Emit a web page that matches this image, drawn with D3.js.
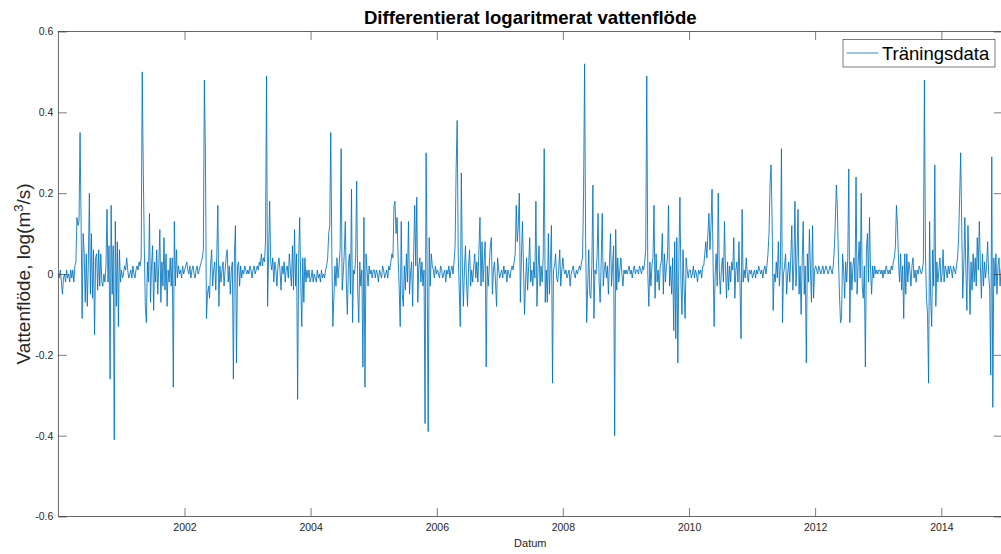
<!DOCTYPE html>
<html>
<head>
<meta charset="utf-8">
<script src="https://cdn.jsdelivr.net/npm/d3@7"></script>
<style>
  body { margin: 0; background: #fff; }
  svg { display: block; font-family: "Liberation Sans", Arial, Helvetica, sans-serif; }
  .tick text { fill: #262626; font-size: 10.5px; }
  .tick line { stroke: #262626; stroke-width: 0.6; }
</style>
</head>
<body>
<svg id="chart" width="1001" height="554"></svg>
<script>
//series: one value every 6 days from 2000-01-01
let startDate = new Date(2000, 0, 1);
let endDate = new Date(2014, 11, 20);
let stepDays = 6;

let y2000 = [0,-0.01,0.01,-0.02,-0.05,-0.01,0,-0.02,0.01,-0.01,0,-0.02,0.01,-0.01,0.01,-0.02,0.02,0.03,
  0.14,0.12,0.13,0.35,0.13,-0.11,0.1,0.05,-0.07,0.05,-0.08,0.03,0.2,-0.05,0.1,-0.06,0.06,-0.15,0.04,0.05,-0.04,0.06,
  -0.03,0.05,-0.02,-0.03,0,-0.02,0.02,0.16,-0.02,0.07,-0.26,0.17,-0.05,0.07,-0.41,0.13,-0.08,0.08,-0.13,0.06,-0.02];
let y2001 = [0.01,-0.01,0,0.02,0.01,0.04,0.01,-0.01,0,0.01,-0.01,0.02,0,-0.01,0.01,0.02,0.01,0.03,0.02,0.04,
  0.5,0.26,0.07,-0.08,-0.12,0.03,-0.02,0.15,-0.07,0.02,0.07,-0.09,0.03,-0.02,0.06,-0.05,0.02,0.11,-0.07,0.03,
  -0.03,0.09,-0.04,0.05,-0.08,0.01,-0.02,0.04,-0.03,0.04,-0.28,0.13,-0.03,0.06,-0.01,0.02,0,0.01,-0.01,0.02,0];
let y2002 = [0.01,0.02,0.03,0.01,0,0.02,-0.01,0.01,0.02,0,-0.01,0.01,0.02,0,0.01,0.02,
  0.03,0.04,0.06,0.48,0.3,-0.11,-0.05,-0.03,-0.06,0.02,0.06,-0.03,0.01,0.03,-0.04,0.05,0.17,-0.08,0.02,-0.02,
  0.01,0.03,-0.03,0.01,0.04,0.06,-0.02,0.02,-0.05,0.01,0.03,-0.26,0.05,0.12,-0.22,0.02,0.03,-0.03,0.02,-0.01,
  0.01,0,0.02,0.01,0];
let y2003 = [0.01,0,0.02,0.01,-0.01,0.01,0.02,0,0.01,0.02,0.01,0.03,0.02,
  0.05,0.02,0.04,0.03,0.08,0.49,-0.08,0.05,0.18,0.03,0.01,0.04,-0.02,0.03,0.01,-0.03,0.02,0.04,0.01,-0.04,0.02,
  0,0.03,-0.02,0.01,0.02,-0.01,0.05,0.01,-0.03,0.07,-0.04,0.11,-0.03,0.05,-0.31,0.04,0.14,-0.02,-0.13,0.04,-0.07,
  0.04,-0.02,0.01,-0.01,0.01,-0.02];
let y2004 = [-0.01,0.01,-0.02,0,-0.01,-0.02,0.01,-0.01,0,-0.02,0.01,-0.01,0,-0.01,0.01,0.02,
  0.04,0.1,0.12,0.35,0.05,-0.13,-0.06,0.02,-0.03,0.04,-0.01,0.02,0.06,0.31,-0.04,0,0.05,0.13,-0.02,-0.1,0.02,
  0.05,-0.05,0.21,-0.12,0.01,0,0.04,0.23,-0.04,-0.12,0.03,-0.03,0.01,-0.23,0.14,-0.28,0.05,0.01,-0.03,0.02,0,
  0.01,-0.01,0.01];
let y2005 = [0.01,-0.01,0.01,0,-0.02,0.01,0,-0.01,0.02,0.01,-0.01,0,0.01,-0.01,0.02,0.01,
  0.03,0.05,0.04,0.17,0.18,0.1,0.14,0.04,-0.03,-0.13,0.13,-0.05,-0.08,0.02,-0.04,0.05,-0.02,0.13,-0.05,0,0.03,
  -0.08,0.05,0.17,0.02,0.19,-0.07,0.02,0.04,-0.02,0.03,-0.03,0.01,-0.37,0.3,0.02,-0.39,0.09,-0.03,0.05,0.02,
  0.01,-0.01,0.02,0];
let y2006 = [0.01,0,-0.01,0.02,0.01,-0.01,0,0.01,-0.02,0.01,0,0.02,-0.01,0.01,0.02,0,
  0.03,0.07,0.26,0.38,0.05,-0.04,-0.13,0.25,0.02,-0.08,0.01,0.07,-0.02,-0.08,0.02,0.06,-0.03,0.01,-0.02,0.02,
  0.05,-0.01,0.03,-0.02,0.06,0.14,-0.03,0.08,-0.02,0.03,0.08,-0.23,0.02,-0.03,0.02,0.07,0.09,-0.05,0.01,0.03,
  -0.02,-0.08,0.04,0.01,-0.01];
let y2007 = [0,0.01,-0.01,0.02,0,0.01,-0.02,0.01,0,-0.01,0.01,0.02,0.01,
  0.03,0.05,0.17,0.08,0.12,0.2,-0.07,0.04,0.13,0.02,-0.1,-0.02,0.04,-0.04,0.02,0.09,-0.02,0.01,-0.03,0.03,-0.01,
  0.18,-0.08,0.01,0.07,-0.03,0.02,-0.02,0.04,0.31,-0.07,0.01,-0.07,0.1,-0.05,0.03,0.12,-0.27,0.01,0.02,0.05,
  -0.01,-0.02,0.01,0.06,-0.03,0.01,0.04];
let y2008 = [0.01,0,0.01,-0.01,0,0.01,-0.03,0,0.01,0.02,0,-0.01,0.01,0,0.01,0.02,0.01,
  0.03,0.04,0.2,0.52,0.08,-0.12,-0.03,0.06,-0.05,-0.06,0.02,0.22,-0.11,0.01,0,0.04,0.15,-0.02,-0.07,0.03,0.15,
  -0.03,0.01,0.03,-0.01,0.02,-0.05,0.03,0.1,-0.03,0.02,0.07,-0.4,0.11,-0.04,0.04,-0.02,0.01,0.04,0,-0.03,0.01,
  0,0.01];
let y2009 = [0,0.01,0.02,0,0.01,-0.01,0.01,0.02,0,0.01,0.01,0,0.02,0.01,0,0.02,
  0.01,0.03,0.06,0.49,0,-0.08,0.03,-0.03,0.02,0.04,0.17,-0.06,0.05,-0.02,0.01,-0.04,0.02,0.03,0.1,-0.05,0.05,
  -0.02,0.02,0.04,0.17,-0.03,0.02,-0.05,0.04,-0.14,0.08,-0.16,0.09,-0.22,0.04,0.19,-0.02,-0.1,0.06,-0.03,-0.11,
  0.04,0.01,-0.01,0.01];
let y2010 = [0.01,-0.01,0,0.02,-0.01,0.01,0,-0.02,0.01,0,0.01,-0.01,0.02,
  0.02,0.05,0.08,0.04,0.1,0.15,0.06,0.12,0.21,0.03,-0.13,0,0.05,-0.03,0.2,0.01,-0.05,0.01,0.04,-0.02,0.13,0.01,
  -0.06,0.03,-0.04,0.02,-0.02,0.03,0.01,0.09,-0.06,0.01,0.03,-0.02,0.08,-0.03,-0.16,0.16,-0.02,0.01,-0.01,0.04,
  0,-0.02,0.01,0,0.01,-0.01];
let y2011 = [0,0.01,-0.01,0.01,0,0.02,0.01,0,0.01,-0.01,0.01,0.02,0,0.02,
  0.05,0.1,0.22,0.27,0.13,-0.09,0,-0.02,0.03,-0.01,0.08,-0.03,0.02,0.31,-0.12,0,0.02,0.05,-0.05,0,0.03,-0.02,
  0.04,0.12,-0.04,0.02,0.18,-0.03,0.04,0.16,-0.05,0.02,-0.1,0.03,0.13,-0.05,0.02,-0.22,0.05,-0.02,0.11,0.01,
  -0.07,0.12,-0.06,0.01,0.02];
let y2012 = [0.01,0,0.02,0.01,0,0.01,0.02,0,0.01,0.02,0.01,0,0.01,0.02,0.01,0,0.02,
  0.06,0.13,0.22,0.16,0.04,-0.05,-0.12,-0.11,0.05,0.01,-0.06,0.03,-0.02,0.04,0.26,-0.12,0.03,-0.04,0.02,0.04,
  -0.02,0.24,-0.05,0.02,0.08,-0.01,0.2,-0.03,-0.06,0.02,-0.23,0.06,0.1,-0.02,0.14,0.01,-0.05,0.02,-0.01,0.02,
  0,0.01,0,0.01];
let y2013 = [0.01,0,0.01,-0.01,0.01,0,0.02,0.01,0,0.01,0,0.02,0.01,0.03,
  0.04,0.07,0.17,0.12,0.03,-0.02,0.05,-0.04,0.02,-0.11,0.05,-0.05,0.05,-0.02,0.03,0.01,-0.03,0.02,0.04,-0.01,
  0.01,-0.02,0.01,0,0.02,0.01,0,0.01,0.03,0.48,0.05,-0.06,-0.1,-0.27,0.13,-0.06,-0.13,0.06,-0.03,0.27,-0.08,
  0.03,-0.02,0.01,0.04,-0.02,0];
let y2014 = [0.06,-0.02,0.02,0.01,-0.01,0.02,0,0.02,0.01,-0.01,0.02,0.01,0,0.02,0.04,0.09,0.19,0.3,0.12,-0.06,
  0.02,0.14,0.01,-0.09,0.12,0.02,-0.1,0.03,-0.04,0.05,-0.02,0.04,-0.03,0.09,0.01,0.13,0.02,-0.06,0.05,-0.03,
  0.03,-0.01,0.02,0.08,0,-0.04,-0.25,0.29,-0.33,0.04,-0.03,0.05,-0.05,0.02,0.04,-0.03,0.01,0.03,-0.02];

let yTicks = [-0.6, -0.4, -0.2, 0, 0.2, 0.4, 0.6];
let xTickYears = [2002, 2004, 2006, 2008, 2010, 2012, 2014];

let titleText = 'Differentierat logaritmerat vattenflöde';
let xLabelText = 'Datum';
let legendText = 'Träningsdata';

//plot box
let plotLeft = 58.3, plotRight = 1002.3, plotTop = 31.5, plotBottom = 516.5;
let lineColor = '#0072BD';
let axisColor = '#262626';

let values = [y2000, y2001, y2002, y2003, y2004, y2005, y2006, y2007,
              y2008, y2009, y2010, y2011, y2012, y2013, y2014].flat();
let series = values.map((v, i) => ({date: d3.timeDay.offset(startDate, i * stepDays), value: v}));

let x = d3.scaleTime().domain([startDate, endDate]).range([plotLeft, plotRight]);
let y = d3.scaleLinear().domain([-0.6, 0.6]).range([plotBottom, plotTop]);

let svg = d3.select('#chart');
svg.append('rect').attr('width', 1001).attr('height', 554).attr('fill', '#fff');

svg.append('clipPath').attr('id', 'plotclip')
  .append('rect')
  .attr('x', plotLeft).attr('y', plotTop)
  .attr('width', plotRight - plotLeft).attr('height', plotBottom - plotTop);

//data line
let line = d3.line().x(d => x(d.date)).y(d => y(d.value));
svg.append('path')
  .datum(series)
  .attr('clip-path', 'url(#plotclip)')
  .attr('fill', 'none')
  .attr('stroke', lineColor)
  .attr('stroke-width', 0.85)
  .attr('stroke-linejoin', 'round')
  .attr('d', line);

//axes, ticks inward like matlab
let tickLen = 8.5;
let xTickDates = xTickYears.map(yr => new Date(yr, 0, 1));
//matlab writes a plain hyphen for negatives
let yFormat = d => d === 0 ? '0' : d.toFixed(1);

svg.append('g')
  .attr('transform', 'translate(0,' + plotBottom + ')')
  .call(d3.axisBottom(x).tickValues(xTickDates).tickFormat(d3.timeFormat('%Y'))
        .tickSizeInner(-tickLen).tickSizeOuter(0).tickPadding(7))
  .call(g => g.select('.domain').remove());

svg.append('g')
  .attr('transform', 'translate(0,' + plotTop + ')')
  .call(d3.axisTop(x).tickValues(xTickDates).tickFormat('')
        .tickSizeInner(-tickLen).tickSizeOuter(0))
  .call(g => g.select('.domain').remove());

svg.append('g')
  .attr('transform', 'translate(' + plotLeft + ',0)')
  .call(d3.axisLeft(y).tickValues(yTicks).tickFormat(yFormat)
        .tickSizeInner(-tickLen).tickSizeOuter(0).tickPadding(5))
  .call(g => g.select('.domain').remove());

svg.append('g')
  .attr('transform', 'translate(' + plotRight + ',0)')
  .call(d3.axisRight(y).tickValues(yTicks).tickFormat('')
        .tickSizeInner(-tickLen).tickSizeOuter(0))
  .call(g => g.select('.domain').remove());

svg.selectAll('g').attr('font-family', null).attr('font-size', null);

//box
svg.append('rect')
  .attr('x', plotLeft).attr('y', plotTop)
  .attr('width', plotRight - plotLeft).attr('height', plotBottom - plotTop)
  .attr('fill', 'none')
  .attr('stroke', axisColor)
  .attr('stroke-width', 0.7);

//title and labels
svg.append('text')
  .attr('x', (plotLeft + plotRight) / 2).attr('y', 24)
  .attr('text-anchor', 'middle')
  .attr('font-size', 18.6).attr('font-weight', 'bold')
  .attr('fill', '#000')
  .text(titleText);

svg.append('text')
  .attr('x', (plotLeft + plotRight) / 2).attr('y', 547)
  .attr('text-anchor', 'middle')
  .attr('font-size', 11)
  .attr('fill', axisColor)
  .text(xLabelText);

let yLabel = svg.append('text')
  .attr('transform', 'translate(30,' + ((plotTop + plotBottom) / 2) + ') rotate(-90)')
  .attr('text-anchor', 'middle')
  .attr('font-size', 19)
  .attr('fill', axisColor);
yLabel.append('tspan').text('Vattenflöde, log(m');
yLabel.append('tspan').attr('font-size', 13).attr('dy', -7).text('3');
yLabel.append('tspan').attr('dy', 7).text('/s)');

//legend
let legend = svg.append('g');
legend.append('rect')
  .attr('x', 843).attr('y', 39.5)
  .attr('width', 152).attr('height', 27.5)
  .attr('fill', '#fff')
  .attr('stroke', axisColor)
  .attr('stroke-width', 0.6);
legend.append('line')
  .attr('x1', 846.7).attr('x2', 878.3)
  .attr('y1', 53).attr('y2', 53)
  .attr('stroke', lineColor)
  .attr('stroke-width', 0.8);
legend.append('text')
  .attr('x', 882).attr('y', 60)
  .attr('font-size', 18.5)
  .attr('fill', '#000')
  .text(legendText);
</script>
</body>
</html>
